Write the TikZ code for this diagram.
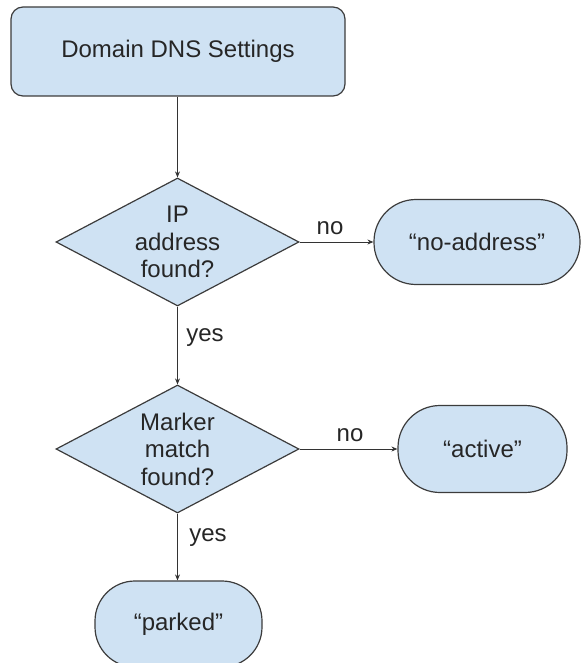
\documentclass[tikz,border=0pt]{standalone}
\usepackage{fontspec}
\setmainfont{Liberation Sans}
\usetikzlibrary{shapes.geometric,arrows.meta}
\definecolor{boxfill}{HTML}{CFE2F3}
\definecolor{edgegray}{HTML}{3C3C3C}
\begin{document}
\begin{tikzpicture}[x=1pt,y=-1pt,
  every node/.style={font=\fontsize{24}{27.5}\selectfont, text=black!85},
  box/.style={draw=edgegray, fill=boxfill, line width=1.2pt, rectangle, inner sep=0pt},
  dia/.style={draw=edgegray, fill=boxfill, line width=1.2pt, diamond, inner sep=0pt,
              minimum width=243pt, minimum height=128pt},
  conn/.style={draw=black!80, line width=0.9pt, -{Stealth[length=6pt,width=5pt]}},
  lbl/.style={inner sep=0pt, align=center}]
\useasboundingbox (0,0) rectangle (582,663);

\node[box, rounded corners=12pt, minimum width=334pt, minimum height=89pt] (top) at (178,51.5) {Domain DNS Settings};

\node[dia] (d1) at (177.5,242) {};
\node[lbl] (t1) at (d1.center) {IP\\address\\found?};

\node[box, rounded corners=42pt, minimum width=206pt, minimum height=85pt] (na) at (477,242) {“no-address”};

\node[dia] (d2) at (177.5,449) {};
\node[lbl] (t2) at (d2.center) {Marker\\match\\found?};

\node[box, rounded corners=42pt, minimum width=169pt, minimum height=87pt] (act) at (482.5,449) {“active”};

\node[box, rounded corners=40pt, minimum width=167pt, minimum height=86pt] (park) at (178.5,624) {“parked”};

\draw[conn] (top.south -| d1.north) -- (d1.north);
\draw[conn] (d1.east) -- (na.west);
\draw[conn] (d1.south) -- (d2.north);
\draw[conn] (d2.east) -- (act.west);
\draw[conn] (d2.south) -- (d2.south |- park.north);

\node[lbl] (no1) at (330,228) {no};
\node[lbl] (yes1) at (205,338) {yes};
\node[lbl] (no2) at (350,435) {no};
\node[lbl] (yes2) at (208,538) {yes};
\end{tikzpicture}
\end{document}
